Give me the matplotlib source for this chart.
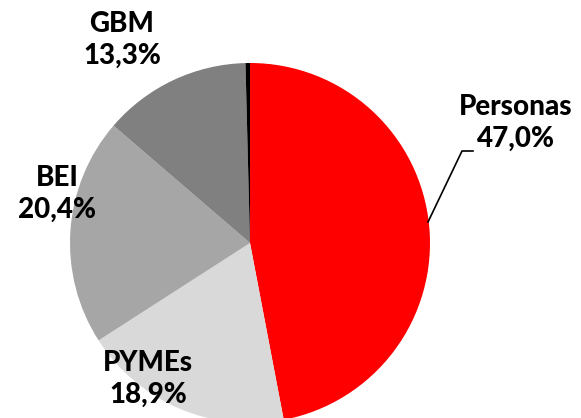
import matplotlib.pyplot as plt

# datos
categorias = ["Personas", "PYMEs", "BEI", "GBM", "Otros"]
porcentajes = [47.0, 18.9, 20.4, 13.3, 0.4]
colores = ["#ff0000", "#d9d9d9", "#a6a6a6", "#808080", "#000000"]
etiquetas = ["Personas\n47,0%", "PYMEs\n18,9%", "BEI\n20,4%", "GBM\n13,3%", ""]

# posiciones de etiquetas (pixeles, origen arriba-izq)
pos_etiquetas = [(516, 123), (148, 379), (57, 194), (122, 40), None]

W, H = 581, 418
fig = plt.figure(figsize=(W / 100, H / 100), dpi=100)
ax = fig.add_axes([0, 0, 1, 1])

ax.pie(porcentajes, colors=colores, startangle=90, counterclock=False,
       center=(250, H - 243), radius=180, frame=True,
       wedgeprops=dict(linewidth=0))
ax.set_xlim(0, W)
ax.set_ylim(0, H)
ax.set_aspect("equal")
ax.axis("off")

for txt, pos in zip(etiquetas, pos_etiquetas):
    if pos is None:
        continue
    ax.text(pos[0], H - pos[1], txt, ha="center", va="center",
            fontsize=20, fontweight="black", family="Lato",
            linespacing=1.25, color="black")

# linea guia de Personas
ax.plot([428, 462, 473], [H - 222, H - 151, H - 151], color="black", lw=1.2)

fig.savefig("out.png", dpi=100)
